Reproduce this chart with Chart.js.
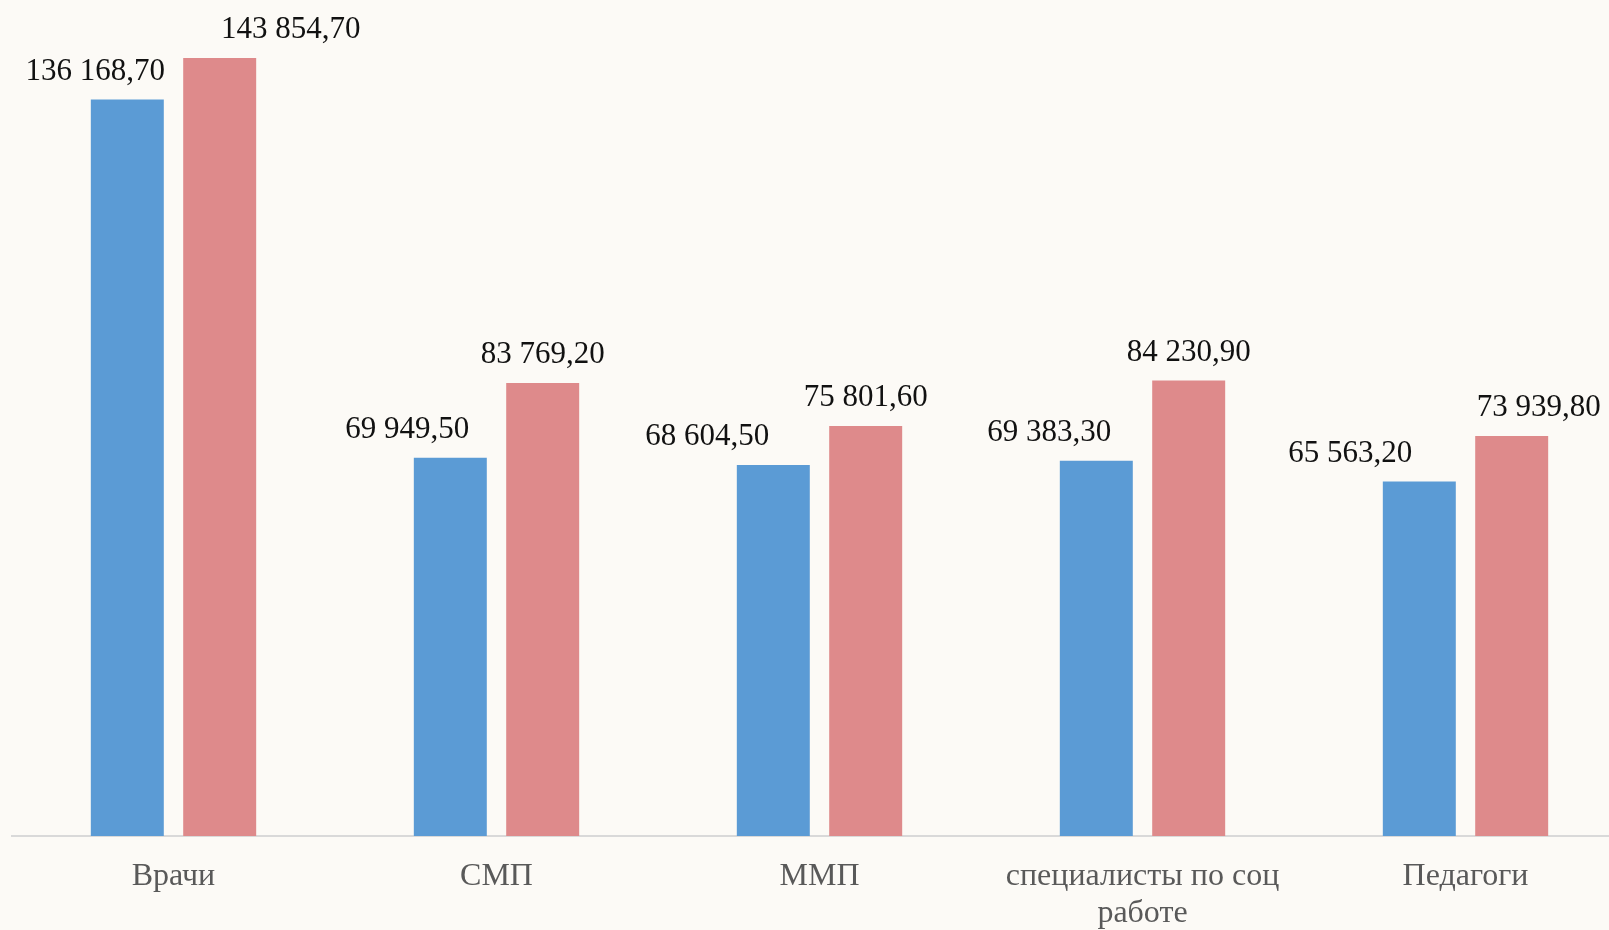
<!DOCTYPE html>
<html>
<head>
<meta charset="utf-8">
<script src="https://cdn.jsdelivr.net/npm/chart.js@4"></script>
<style>
  html, body { margin: 0; padding: 0; background: #fcfaf6; overflow: hidden; }
  #wrap { width: 1630px; height: 930px; }
</style>
</head>
<body>
<div id="wrap"><canvas id="myChart"></canvas></div>
<script>
// данные
const categories = ["Врачи", "СМП", "ММП", ["специалисты по соц", "работе"], "Педагоги"];
const serieBleue = [136168.70, 69949.50, 68604.50, 69383.30, 65563.20];
const serieRouge = [143854.70, 83769.20, 75801.60, 84230.90, 73939.80];

// décalage horizontal des étiquettes (comme dans le graphique d'origine)
const decalageBleu = [-32, -43, -66, -47, -69];
const decalageRouge = [71, 0, 0, 0, 27];

function formatNombre(v) {
    let s = v.toFixed(2).split(".");
    let ent = s[0].replace(/\B(?=(\d{3})+(?!\d))/g, " ");
    return ent + "," + s[1];
}

// plugin maison pour écrire les valeurs au dessus des barres
const etiquettes = {
    id: 'etiquettes',
    afterDatasetsDraw(chart) {
        const ctx = chart.ctx;
        ctx.save();
        ctx.font = '31px "Liberation Serif"';
        ctx.fillStyle = '#111111';
        ctx.textAlign = 'center';
        ctx.textBaseline = 'middle';
        chart.data.datasets.forEach((ds, i) => {
            const meta = chart.getDatasetMeta(i);
            const dec = i === 0 ? decalageBleu : decalageRouge;
            meta.data.forEach((bar, j) => {
                ctx.fillText(formatNombre(ds.data[j]), bar.x + dec[j], bar.y - 28);
            });
        });
        ctx.restore();
    }
};

const data = {
    labels: categories,
    datasets: [{
        label: 'bleu',
        backgroundColor: '#5b9bd5',
        data: serieBleue,
    }, {
        label: 'rouge',
        backgroundColor: '#de8a8b',
        data: serieRouge,
    }]
};

const config = {
    type: 'bar',
    data: data,
    plugins: [etiquettes],
    options: {
        responsive: true,
        maintainAspectRatio: false,
        animation: false,
        categoryPercentage: 0.572,
        barPercentage: 0.79,
        layout: { padding: { left: 12, right: 3, top: 0, bottom: 0 } },
        plugins: {
            legend: { display: false },
            tooltip: { enabled: false }
        },
        scales: {
            y: {
                display: false,
                min: 0,
                max: 154560
            },
            x: {
                grid: { display: false, drawTicks: false },
                border: { color: '#d9d9d9', width: 2 },
                afterFit: (axis) => { axis.height = 94; },
                ticks: {
                    color: '#595959',
                    padding: 22,
                    maxRotation: 0,
                    autoSkip: false,
                    font: { family: '"Liberation Serif"', size: 32, lineHeight: 1.15 }
                }
            }
        }
    }
};

const myChart = new Chart(document.getElementById('myChart'), config);
</script>
</body>
</html>
